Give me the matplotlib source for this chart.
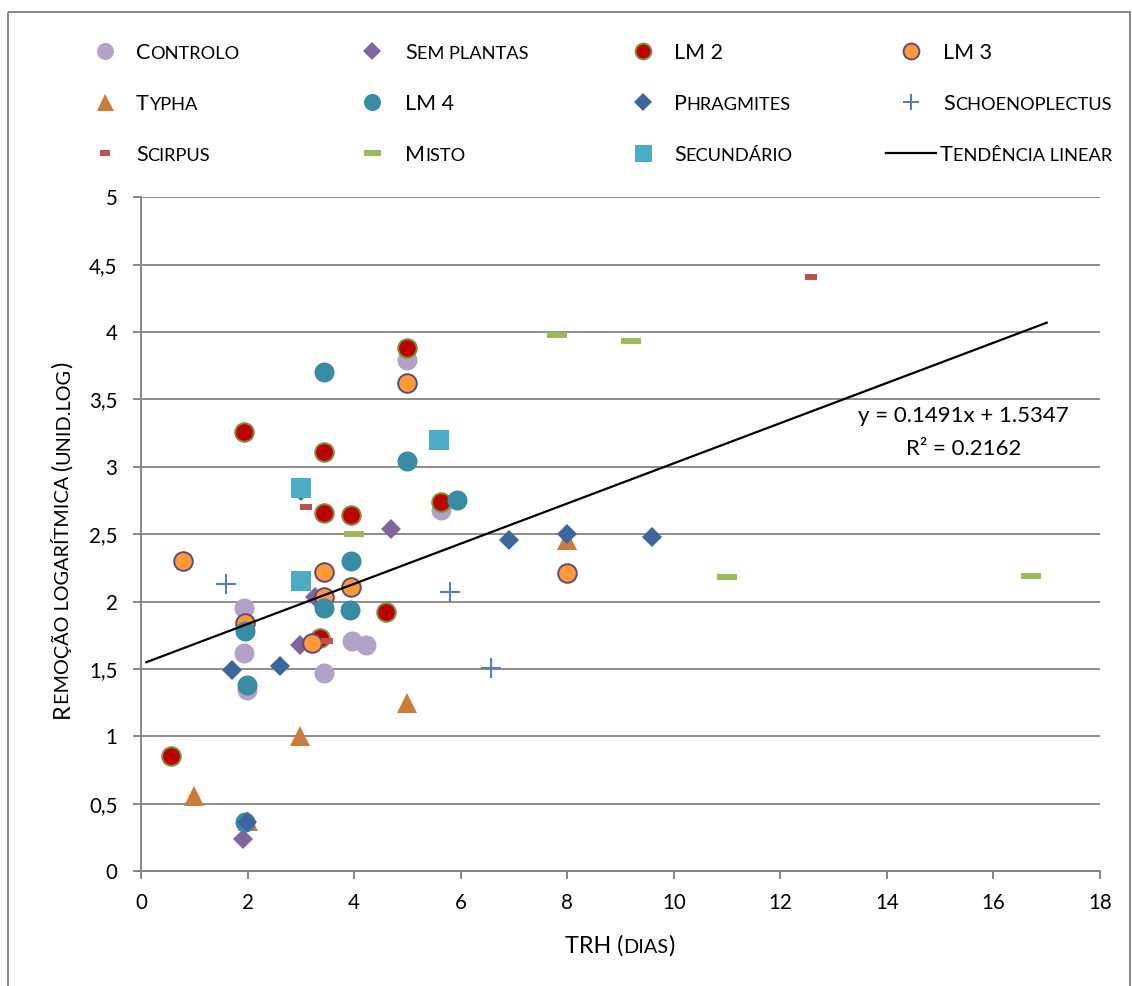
import numpy as np
import matplotlib
matplotlib.use("Agg")
import matplotlib.pyplot as plt
from matplotlib.patches import Rectangle
from matplotlib.lines import Line2D

plt.rcParams['font.family'] = ['Lato', 'DejaVu Sans']

# series: (x = TRH em dias, y = remoção logarítmica)
controlo_x = [1.93, 1.93, 1.99, 3.43, 3.96, 4.22, 4.99, 5.63]
controlo_y = [1.95, 1.62, 1.34, 1.47, 1.71, 1.68, 3.79, 2.68]
sem_plantas_x = [1.91, 2.98, 3.27, 4.69]
sem_plantas_y = [0.24, 1.68, 2.03, 2.54]
lm2_x = [0.56, 1.93, 3.36, 3.43, 3.43, 3.94, 4.60, 4.99, 5.63]
lm2_y = [0.85, 3.26, 1.73, 3.11, 2.66, 2.64, 1.92, 3.88, 2.74]
lm3_x = [0.79, 1.95, 3.21, 3.43, 3.43, 3.95, 4.99, 8.0]
lm3_y = [2.30, 1.84, 1.69, 2.03, 2.22, 2.11, 3.62, 2.21]
typha_x = [1.0, 2.0, 2.99, 4.99, 8.0]
typha_y = [0.56, 0.37, 1.0, 1.25, 2.46]
lm4_x = [1.95, 1.95, 1.99, 3.43, 3.92, 3.94, 3.43, 4.99, 5.94]
lm4_y = [0.36, 1.78, 1.38, 1.95, 1.94, 2.30, 3.70, 3.04, 2.75]
phragmites_x = [1.70, 2.60, 1.99, 3.0, 6.90, 8.0, 9.6]
phragmites_y = [1.49, 1.52, 0.36, 2.82, 2.46, 2.50, 2.48]
schoeno_x = [1.60, 5.80, 6.57]
schoeno_y = [2.13, 2.07, 1.51]
scirpus_x = [3.09, 3.49, 12.58]
scirpus_y = [2.70, 1.71, 4.41]
misto_x = [4.0, 7.80, 9.20, 11.0, 16.70]
misto_y = [2.50, 3.98, 3.93, 2.18, 2.19]
secundario_x = [3.0, 3.0, 5.6]
secundario_y = [2.84, 2.15, 3.20]

trend_slope = 0.1491
trend_icpt = 1.5347
trend_r2 = 0.2162
trend_range = [0.1, 17.0]

x_ticks = list(range(0, 19, 2))
y_ticks = [0, 0.5, 1, 1.5, 2, 2.5, 3, 3.5, 4, 4.5, 5]

# name, x, y, marker style
series = [
    ("Controlo", controlo_x, controlo_y,
     dict(marker='o', ms=14.4, mfc='#B3A2C7', mec='#B3A2C7', mew=0)),
    ("Sem plantas", sem_plantas_x, sem_plantas_y,
     dict(marker='D', ms=10.2, mfc='#8064A2', mec='#8064A2', mew=0)),
    ("LM 2", lm2_x, lm2_y,
     dict(marker='o', ms=13.4, mfc='#C00000', mec='#77933C', mew=1.4)),
    ("LM 3", lm3_x, lm3_y,
     dict(marker='o', ms=13.4, mfc='#FF9933', mec='#604A7B', mew=1.4)),
    ("Typha", typha_x, typha_y,
     dict(marker='^', ms=14.4, mfc='#CD7B38', mec='#CD7B38', mew=0)),
    ("LM 4", lm4_x, lm4_y,
     dict(marker='o', ms=14.4, mfc='#378BA2', mec='#378BA2', mew=0)),
    ("Phragmites", phragmites_x, phragmites_y,
     dict(marker='D', ms=10.2, mfc='#3D679C', mec='#3D679C', mew=0)),
    ("Schoenoplectus", schoeno_x, schoeno_y,
     dict(marker='+', ms=14, mec='#4F81BD', mew=1.5)),
    ("Scirpus", scirpus_x, scirpus_y,
     dict(marker='_', ms=8, mec='#C0504D', mew=4.3)),
    ("Misto", misto_x, misto_y,
     dict(marker='_', ms=14.4, mec='#9BBB59', mew=4.3)),
    ("Secundário", secundario_x, secundario_y,
     dict(marker='s', ms=14.4, mfc='#4BACC6', mec='#4BACC6', mew=0)),
]

W, H = 1132, 986
fig = plt.figure(figsize=(W / 100, H / 100), dpi=100)

# pixel-space canvas for frame, legend and axis titles
bg = fig.add_axes([0, 0, 1, 1])
bg.set_xlim(0, W)
bg.set_ylim(H, 0)
bg.axis('off')
bg.set_zorder(0)

ax = fig.add_axes([141 / W, (H - 871) / H, (1100 - 141) / W, (871 - 197.3) / H])
ax.set_zorder(1)

for name, xs, ys, st in series:
    ax.plot(xs, ys, linestyle='none', **st, zorder=3)

tx = np.array(trend_range)
ax.plot(tx, trend_slope * tx + trend_icpt, color='black', lw=1.6, zorder=4)

ax.text(15.43, 3.375, f"y = {trend_slope}x + {trend_icpt}", fontsize=16,
        ha='center', va='center', zorder=5)
ax.text(15.45, 3.13, f"R² = {trend_r2}", fontsize=16,
        ha='center', va='center', zorder=5)

ax.set_xlim(0, 18)
ax.set_ylim(0, 5)
ax.set_xticks(x_ticks)
ax.set_yticks(y_ticks)
ax.set_yticklabels([f"{v:g}".replace('.', ',') for v in y_ticks])
ax.tick_params(axis='both', labelsize=14.8, colors='#868686', labelcolor='black',
               length=6, width=1.4)
ax.tick_params(axis='x', pad=10)
ax.tick_params(axis='y', pad=11)
ax.grid(axis='y', color='#8C8C8C', lw=1.4)
ax.set_axisbelow(True)
for sp in ['top', 'right']:
    ax.spines[sp].set_visible(False)
for sp in ['left', 'bottom']:
    ax.spines[sp].set_color('#868686')
    ax.spines[sp].set_linewidth(1.4)

# outer chart frame
bg.add_patch(Rectangle((8, 12), 1122, 1000, fill=False, ec='#888888', lw=1.4))

renderer = fig.canvas.get_renderer()
SC = 0.85


def text_w(s, size):
    t = bg.text(0, 0, s, fontsize=size)
    w = t.get_window_extent(renderer).width
    t.remove()
    return w


def runs_of(s):
    runs = []
    for ch in s:
        if ch.islower():
            kind = 'small'
        elif ch.isupper() or ch.isdigit() or ch in '()':
            kind = 'big'
        else:
            kind = runs[-1][0] if runs else 'big'
        if runs and runs[-1][0] == kind:
            runs[-1][1] += ch
        else:
            runs.append([kind, ch])
    return runs


def smallcaps(x, y, s, size, rot=0, ha='left'):
    pieces = []
    for kind, txt in runs_of(s):
        if kind == 'small':
            pieces.append((txt.upper(), size * SC))
        else:
            pieces.append((txt, size))
    adv = [text_w(t + 'x', sz) - text_w('x', sz) for t, sz in pieces]
    off = -sum(adv) / 2 if ha == 'center' else 0
    for (t, sz), a in zip(pieces, adv):
        if rot == 0:
            bg.text(x + off, y, t, fontsize=sz, ha='left', va='baseline')
        else:
            bg.text(x, y - off, t, fontsize=sz, rotation=90,
                    rotation_mode='anchor', ha='left', va='baseline')
        off += a


# legend, 4 columns
col_marker = [105, 372, 643, 911]
col_text = [136, 405, 674, 943]
row_base = [59, 110, 161]
legend_scale = 0.85
for i, (name, xs, ys, st) in enumerate(series):
    r, c = divmod(i, 4)
    st2 = dict(st)
    st2['ms'] = st['ms'] * legend_scale
    bg.plot([col_marker[c]], [row_base[r] - 8], linestyle='none', **st2)
    smallcaps(col_text[c], row_base[r], name, 15.5)
bg.add_line(Line2D([886, 936], [row_base[2] - 8, row_base[2] - 8], color='black', lw=1.6))
smallcaps(940, row_base[2], "Tendência linear", 15.5)

# axis titles
smallcaps(620, 953, "TRH (dias)", 16.8, ha='center')
smallcaps(69, 540, "Remoção logarítmica (unid.log)", 16.8, rot=90, ha='center')

fig.savefig("out.png", dpi=100)
